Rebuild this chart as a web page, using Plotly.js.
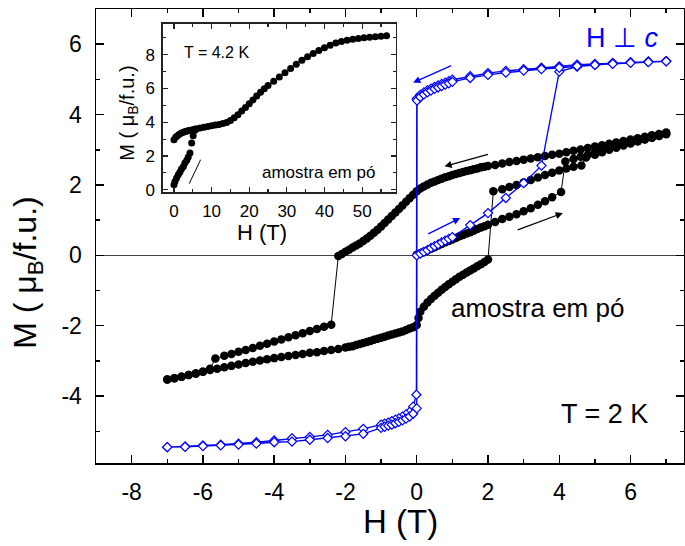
<!DOCTYPE html>
<html>
<head>
<meta charset="utf-8">
<script src="https://cdn.plot.ly/plotly-3.0.1.min.js"></script>
<style>
  html, body { margin: 0; padding: 0; background: #fff; }
  #chart { width: 685px; height: 546px; }
</style>
</head>
<body>
<div id="chart"></div>
<script>
// ---- Powder sample, T = 2 K (black circles) ----
// first field sweep 0 -> 7 T
const powderVirginH = [0, 0.1, 0.2, 0.3, 0.4, 0.5, 0.6, 0.7, 0.8, 0.9, 1.0, 1.1, 1.2, 1.3, 1.4, 1.5, 1.6, 1.7, 1.8, 1.9, 2.0,
  2.2, 2.4, 2.6, 2.8, 3.0, 3.2, 3.4, 3.6, 3.8, 4.05,
  4.17, 4.4, 4.6, 4.8, 5.0, 5.2, 5.4, 5.6, 5.8, 6.0, 6.2, 6.4, 6.6, 6.8, 7.0];
const powderVirginM = [0.02, 0.06, 0.10, 0.14, 0.19, 0.23, 0.28, 0.32, 0.37, 0.41, 0.45, 0.49, 0.54, 0.58, 0.62, 0.66, 0.70, 0.75, 0.79, 0.83, 0.87,
  0.95, 1.03, 1.10, 1.17, 1.25, 1.34, 1.44, 1.54, 1.65, 1.80,
  2.67, 2.74, 2.80, 2.86, 2.92, 2.98, 3.03, 3.09, 3.14, 3.19, 3.24, 3.29, 3.34, 3.39, 3.44];
// sweep 7 -> -7 T
const powderDownH = [7.0, 6.8, 6.6, 6.4, 6.2, 6.0, 5.8, 5.6, 5.4, 5.2, 5.0, 4.8, 4.6, 4.4, 4.2, 4.0, 3.8, 3.6, 3.4, 3.2, 3.0,
  2.8, 2.6, 2.4, 2.2, 2.0, 1.9, 1.8, 1.7, 1.6, 1.5, 1.4, 1.3, 1.2, 1.1, 1.0, 0.9, 0.8, 0.7, 0.6, 0.5, 0.4, 0.3, 0.2, 0.1, 0.0,
  -0.1, -0.2, -0.3, -0.4, -0.5, -0.6, -0.7, -0.8, -0.9, -1.0, -1.1, -1.2, -1.3, -1.4, -1.5, -1.6, -1.7, -1.8, -1.9, -2.0, -2.1, -2.2,
  -2.4, -2.6, -2.8, -3.0, -3.2, -3.4, -3.6, -3.8, -4.0, -4.2, -4.4, -4.6, -4.8, -5.0, -5.2, -5.4, -5.65,
  -5.8, -6.0, -6.2, -6.4, -6.6, -6.8, -7.0];
const powderDownM = [3.49, 3.45, 3.41, 3.37, 3.33, 3.29, 3.25, 3.21, 3.17, 3.13, 3.09, 3.05, 3.01, 2.97, 2.93, 2.89, 2.86, 2.82, 2.79, 2.75, 2.72,
  2.68, 2.65, 2.61, 2.57, 2.54, 2.52, 2.50, 2.47, 2.45, 2.42, 2.40, 2.37, 2.34, 2.31, 2.28, 2.25, 2.22, 2.18, 2.14, 2.10, 2.06, 2.01, 1.96, 1.90, 1.82,
  1.72, 1.62, 1.52, 1.42, 1.32, 1.22, 1.12, 1.02, 0.92, 0.82, 0.73, 0.64, 0.56, 0.48, 0.41, 0.34, 0.28, 0.22, 0.16, 0.10, 0.04, -0.02,
  -1.97, -2.03, -2.09, -2.15, -2.21, -2.27, -2.33, -2.39, -2.45, -2.51, -2.57, -2.63, -2.69, -2.74, -2.80, -2.85, -2.93,
  -3.22, -3.31, -3.36, -3.40, -3.45, -3.49, -3.53];
// sweep -7 -> 7 T
const powderUpH = [-7.0, -6.8, -6.6, -6.4, -6.2, -6.0, -5.8, -5.6, -5.4, -5.2, -5.0, -4.8, -4.6, -4.4, -4.2, -4.0, -3.8, -3.6, -3.4, -3.2, -3.0,
  -2.8, -2.6, -2.4, -2.2, -2.0, -1.9, -1.8, -1.7, -1.6, -1.5, -1.4, -1.3, -1.2, -1.1, -1.0, -0.9, -0.8, -0.7, -0.6, -0.5, -0.4, -0.3, -0.2, -0.1, 0.0,
  0.05, 0.1, 0.2, 0.3, 0.4, 0.5, 0.6, 0.7, 0.8, 0.9, 1.0, 1.1, 1.2, 1.3, 1.4, 1.5, 1.6, 1.7, 1.8, 1.9, 2.0,
  2.15, 2.4, 2.6, 2.8, 3.0, 3.2, 3.4, 3.6, 3.8, 4.0, 4.2, 4.4, 4.62,
  4.75, 5.0, 5.2, 5.4, 5.6, 5.8, 6.0, 6.2, 6.4, 6.6, 6.8, 7.0];
const powderUpM = [-3.53, -3.49, -3.45, -3.40, -3.36, -3.31, -3.26, -3.22, -3.18, -3.14, -3.10, -3.06, -3.02, -2.99, -2.95, -2.92, -2.89, -2.86, -2.83, -2.80, -2.77,
  -2.75, -2.72, -2.69, -2.66, -2.62, -2.60, -2.58, -2.55, -2.52, -2.49, -2.46, -2.43, -2.40, -2.37, -2.34, -2.31, -2.28, -2.25, -2.22, -2.19, -2.16, -2.12, -2.08, -2.04, -1.98,
  -1.78, -1.60, -1.46, -1.34, -1.24, -1.15, -1.06, -0.98, -0.90, -0.82, -0.75, -0.68, -0.61, -0.55, -0.49, -0.43, -0.37, -0.31, -0.25, -0.19, -0.12,
  1.82, 1.88, 1.94, 2.00, 2.07, 2.14, 2.21, 2.28, 2.35, 2.41, 2.47, 2.52, 2.55,
  2.78, 2.86, 2.93, 3.00, 3.06, 3.12, 3.18, 3.24, 3.30, 3.35, 3.40, 3.46];

// ---- Single crystal, H perpendicular to c (blue diamonds) ----
const crystalVirginH = [0, 0.1, 0.2, 0.3, 0.4, 0.5, 0.6, 0.7, 0.8, 0.9, 1.0, 1.5, 2.0, 2.5, 3.0, 3.5, 4.0, 4.5, 5.0, 5.5, 6.0, 6.5, 7.0];
const crystalVirginM = [0.00, 0.05, 0.10, 0.15, 0.21, 0.26, 0.31, 0.37, 0.42, 0.47, 0.52, 0.86, 1.20, 1.63, 2.05, 2.55, 5.22, 5.36, 5.41, 5.45, 5.48, 5.50, 5.52];
const crystalDownH = [7.0, 6.5, 6.0, 5.5, 5.0, 4.5, 4.0, 3.5, 3.0, 2.5, 2.0, 1.5, 1.0, 0.9, 0.8, 0.7, 0.6, 0.5, 0.4, 0.3, 0.2, 0.1, 0.0,
  -0.01, -0.1, -0.2, -0.3, -0.4, -0.5, -0.6, -0.7, -0.8, -0.9, -1.0, -1.5, -2.0, -2.5, -3.0, -3.5, -4.0, -4.5, -5.0, -5.5, -6.0, -6.5, -7.0];
const crystalDownM = [5.52, 5.51, 5.49, 5.47, 5.44, 5.42, 5.37, 5.33, 5.29, 5.24, 5.18, 5.09, 4.99, 4.95, 4.91, 4.87, 4.83, 4.79, 4.74, 4.69, 4.63, 4.56, 4.45,
  -3.96, -4.30, -4.45, -4.52, -4.58, -4.63, -4.67, -4.71, -4.75, -4.78, -4.81, -4.93, -5.02, -5.10, -5.16, -5.20, -5.26, -5.31, -5.35, -5.38, -5.40, -5.43, -5.45];
const crystalUpH = [-7.0, -6.5, -6.0, -5.5, -5.0, -4.5, -4.0, -3.5, -3.0, -2.5, -2.0, -1.5, -1.0, -0.9, -0.8, -0.7, -0.6, -0.5, -0.4, -0.3, -0.2, -0.1, 0.0,
  0.01, 0.1, 0.2, 0.3, 0.4, 0.5, 0.6, 0.7, 0.8, 0.9, 1.0, 1.5, 2.0, 2.5, 3.0, 3.5, 4.0, 4.5, 5.0, 5.5, 6.0, 6.5, 7.0];
const crystalUpM = [-5.45, -5.44, -5.42, -5.40, -5.38, -5.35, -5.31, -5.29, -5.24, -5.19, -5.14, -5.07, -4.90, -4.87, -4.84, -4.81, -4.77, -4.73, -4.69, -4.64, -4.58, -4.50, -4.35,
  4.40, 4.50, 4.57, 4.63, 4.68, 4.73, 4.77, 4.81, 4.85, 4.89, 4.93, 5.04, 5.13, 5.19, 5.25, 5.29, 5.33, 5.38, 5.41, 5.44, 5.47, 5.49, 5.51];

// ---- Inset: powder sample in pulsed field, T = 4.2 K ----
const pulseUpH = [0.0, 0.27, 0.7, 1.15, 1.6, 2.0, 2.5, 2.9, 3.4, 3.8, 4.25, 4.7, 5.1, 5.6];
const pulseUpM = [0.30, 0.49, 0.69, 0.89, 1.05, 1.23, 1.38, 1.58, 1.74, 1.94, 2.17, 2.77, 3.20, 3.52];
const pulseDownH = [56.5, 55.0, 53.5, 52.0, 50.5, 49.0, 47.5, 46.0, 44.5, 43.0, 41.5, 40.0, 38.5, 37.0, 35.5, 34.0, 32.5, 31.0, 29.5, 28.0, 26.5,
  25.0, 24.0, 23.0, 22.0, 21.0, 20.0, 19.0, 18.0, 17.0, 16.0, 15.0, 14.0, 13.0, 12.0, 11.0, 10.0, 9.0, 8.0, 7.0, 6.0,
  5.5, 5.0, 4.5, 4.0, 3.5, 3.0, 2.5, 2.0, 1.5, 1.0, 0.5, 0.0];
const pulseDownM = [9.12, 9.10, 9.07, 9.04, 9.01, 8.97, 8.92, 8.86, 8.78, 8.69, 8.57, 8.42, 8.25, 8.07, 7.88, 7.67, 7.44, 7.19, 6.94, 6.68, 6.43,
  6.18, 5.99, 5.78, 5.56, 5.32, 5.10, 4.88, 4.66, 4.45, 4.27, 4.10, 3.99, 3.92, 3.87, 3.83, 3.79, 3.75, 3.70, 3.66, 3.61,
  3.58, 3.56, 3.53, 3.51, 3.48, 3.45, 3.41, 3.36, 3.30, 3.22, 3.12, 2.96];

// ---- Tick labels ----
const mainXTicks = [-8, -6, -4, -2, 0, 2, 4, 6];
const mainXLabels = ['-8', '-6', '-4', '-2', '0', '2', '4', '6'];
const mainYTicks = [-4, -2, 0, 2, 4, 6];
const mainYLabels = ['-4', '-2', '0', '2', '4', '6'];
const insetXTicks = [0, 10, 20, 30, 40, 50];
const insetYTicks = [0, 2, 4, 6, 8];

const FONT = 'Arial, "Liberation Sans", Helvetica, sans-serif';
const BLUE = '#0000ff';

const traces = [
  {
    x: powderVirginH.concat(powderDownH, powderUpH),
    y: powderVirginM.concat(powderDownM, powderUpM),
    mode: 'lines+markers', type: 'scatter', name: 'amostra em pó',
    line: { color: '#000', width: 1 },
    marker: { color: '#000', size: 8.5, symbol: 'circle' },
    xaxis: 'x', yaxis: 'y'
  },
  {
    x: crystalVirginH.concat(crystalDownH, crystalUpH),
    y: crystalVirginM.concat(crystalDownM, crystalUpM),
    mode: 'lines+markers', type: 'scatter', name: 'H ⊥ c',
    line: { color: BLUE, width: 1.3 },
    marker: { color: '#fff', size: 7, symbol: 'diamond', line: { color: BLUE, width: 1.2 } },
    xaxis: 'x', yaxis: 'y'
  },
  {
    x: pulseDownH, y: pulseDownM,
    mode: 'markers', type: 'scatter', name: 'T = 4.2 K',
    marker: { color: '#000', size: 7 },
    xaxis: 'x2', yaxis: 'y2'
  },
  {
    x: pulseUpH, y: pulseUpM,
    mode: 'markers', type: 'scatter', name: 'T = 4.2 K (subida)',
    marker: { color: '#000', size: 7 },
    xaxis: 'x2', yaxis: 'y2'
  }
];

const mainAxis = {
  showline: true, linecolor: '#000', linewidth: 1.5, mirror: 'ticks',
  ticks: 'inside', ticklen: 8, tickwidth: 1.5, tickcolor: '#000',
  minor: { ticks: 'inside', ticklen: 4, tickwidth: 1.5, tickcolor: '#000', dtick: 1 },
  showgrid: false, tickfont: { family: FONT, size: 23, color: '#000' },
  tickmode: 'array', ticklabelstandoff: 8
};
const insetAxis = {
  showline: true, linecolor: '#222', linewidth: 1.3, mirror: 'ticks',
  ticks: 'inside', ticklen: 5, tickwidth: 1.2, tickcolor: '#222',
  showgrid: false, zeroline: false, tickfont: { family: FONT, size: 17, color: '#000' },
  tickmode: 'array', ticklabelstandoff: 3
};

const arrow = (x, y, ax, ay, color) => ({
  x: x, y: y, ax: ax, ay: ay, xref: 'x', yref: 'y', axref: 'x', ayref: 'y',
  text: '', showarrow: true, arrowhead: 2, arrowsize: 1.1, arrowwidth: 1.3, arrowcolor: color
});

const layout = {
  width: 685, height: 546,
  margin: { l: 96, r: 1, t: 9, b: 83 },
  paper_bgcolor: '#fff', plot_bgcolor: '#fff',
  showlegend: false,
  font: { family: FONT, color: '#000' },
  xaxis: Object.assign({}, mainAxis, {
    range: [-9, 7.5], tickvals: mainXTicks, ticktext: mainXLabels, zeroline: false,
    domain: [0, 1], anchor: 'y'
  }),
  yaxis: Object.assign({}, mainAxis, {
    range: [-5.9, 7], tickvals: mainYTicks, ticktext: mainYLabels,
    zeroline: true, zerolinecolor: '#444', zerolinewidth: 1,
    domain: [0, 1], anchor: 'x'
  }),
  xaxis2: Object.assign({}, insetAxis, {
    range: [-3, 59], tickvals: insetXTicks, anchor: 'y2',
    domain: [0.1134, 0.5102],
    minor: { ticks: 'inside', ticklen: 3, tickwidth: 1.2, tickcolor: '#222', dtick: 5, tick0: 0 }
  }),
  yaxis2: Object.assign({}, insetAxis, {
    range: [-0.16, 9.84], tickvals: insetYTicks, anchor: 'x2',
    domain: [0.596, 0.9676],
    minor: { ticks: 'inside', ticklen: 3, tickwidth: 1.2, tickcolor: '#222', dtick: 1, tick0: 0 }
  }),
  shapes: [
    { type: 'line', xref: 'x2', yref: 'y2', x0: 4.06, y0: 0.36, x1: 7.08, y1: 1.78,
      line: { color: '#000', width: 1 } }
  ],
  annotations: [
    // axis titles
    { xref: 'paper', yref: 'paper', x: 0.5187, y: -0.1293, xanchor: 'center', yanchor: 'middle',
      text: 'H (T)', showarrow: false, font: { family: FONT, size: 33, color: '#000' } },
    { xref: 'paper', yref: 'paper', x: -0.1156, y: 0.419, xanchor: 'center', yanchor: 'middle',
      text: 'M ( μ<sub>B</sub>/f.u.)', textangle: -90, showarrow: false,
      font: { family: FONT, size: 32, color: '#000' } },
    { xref: 'paper', yref: 'paper', x: 0.282, y: 0.508, xanchor: 'center', yanchor: 'middle',
      text: 'H (T)', showarrow: false, font: { family: FONT, size: 22, color: '#000' } },
    { xref: 'paper', yref: 'paper', x: 0.055, y: 0.77, xanchor: 'center', yanchor: 'middle',
      text: 'M ( μ<sub>B</sub>/f.u.)', textangle: -90, showarrow: false,
      font: { family: FONT, size: 20, color: '#000' } },
    // labels
    { xref: 'paper', yref: 'paper', x: 0.8946, y: 0.9368, xanchor: 'center', yanchor: 'middle',
      text: 'H ⊥ <i>c</i>', showarrow: false, font: { family: FONT, size: 27, color: BLUE } },
    { xref: 'paper', yref: 'paper', x: 0.7517, y: 0.342, xanchor: 'center', yanchor: 'middle',
      text: 'amostra em pó', showarrow: false, font: { family: FONT, size: 26, color: '#000' } },
    { xref: 'paper', yref: 'paper', x: 0.864, y: 0.1086, xanchor: 'center', yanchor: 'middle',
      text: 'T = 2 K', showarrow: false, font: { family: FONT, size: 27, color: '#000' } },
    { xref: 'paper', yref: 'paper', x: 0.2053, y: 0.9048, xanchor: 'center', yanchor: 'middle',
      text: 'T = 4.2 K', showarrow: false, font: { family: FONT, size: 16, color: '#000' } },
    { xref: 'paper', yref: 'paper', x: 0.3789, y: 0.6407, xanchor: 'center', yanchor: 'middle',
      text: 'amostra em pó', showarrow: false, font: { family: FONT, size: 17, color: '#000' } },
    // sweep direction arrows
    arrow(0.78, 2.53, 2.04, 2.88, '#000'),
    arrow(4.10, 1.20, 2.79, 0.71, '#000'),
    arrow(-0.10, 4.91, 1.01, 5.41, BLUE),
    arrow(1.22, 1.06, 0.28, 0.59, BLUE)
  ]
};

Plotly.newPlot('chart', traces, layout, { staticPlot: true, displayModeBar: false });
</script>
</body>
</html>
